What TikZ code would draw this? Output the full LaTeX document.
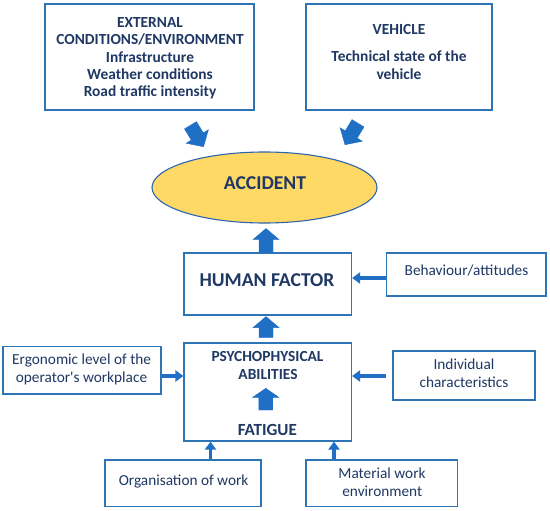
\documentclass[tikz,border=0pt]{standalone}
\usepackage{fontspec}
\setmainfont{Carlito}[Ligatures=TeXOff]
\usetikzlibrary{calc,arrows.meta,shapes.geometric}
\definecolor{navy}{HTML}{1F3864}
\definecolor{boxblue}{HTML}{2E75B6}
\definecolor{arrblue}{HTML}{1F6FC5}
\definecolor{gold}{HTML}{FFD966}
\definecolor{ellblue}{HTML}{2E64AE}
\newcommand\fatarr[3][11pt]{%
  \coordinate (fas) at #2;
  \coordinate (fae) at #3;
  \coordinate (fah) at ($(fae)!#1!(fas)$);
  \filldraw[fatarrow] ($(fas)!7pt!90:(fae)$) -- ($(fah)!7pt!90:(fae)$) -- ($(fah)!13pt!90:(fae)$) -- (fae)
    -- ($(fah)!13pt!-90:(fae)$) -- ($(fah)!7pt!-90:(fae)$) -- ($(fas)!7pt!-90:(fae)$) -- cycle;}
\begin{document}
\begin{tikzpicture}[x=1pt,y=-1pt,
  box/.style={draw=boxblue, line width=1.2pt, inner sep=0, fill=white},
  txt/.style={text=navy, inner sep=0, anchor=base, font=\fontsize{15.3}{18}\selectfont},
  btxt/.style={text=navy, inner sep=0, anchor=base, font=\bfseries\fontsize{15.4}{18}\selectfont},
  bigtxt/.style={text=navy, inner sep=0, anchor=base, font=\bfseries\fontsize{19.6}{22}\selectfont},
  fattxt/.style={text=navy, inner sep=0, anchor=base, font=\bfseries\fontsize{17}{20}\selectfont},
  thinarr/.style={draw=arrblue, line width=3.2pt, -{Triangle[length=8pt,width=11pt]}},
  fatarrow/.style={fill=arrblue, draw=arrblue, line width=0.4pt, line join=miter}]
\fill[white] (0,0) rectangle (550,511);
\useasboundingbox (0,0) rectangle (550,511);

% boxes
\node[box, minimum width=209pt, minimum height=106pt] (ext) at (149.5,57) {};
\node[box, minimum width=186pt, minimum height=106pt] (veh) at (399,57) {};
\node[ellipse, draw=ellblue, line width=1.1pt, fill=gold, inner sep=0,
      minimum width=225pt, minimum height=71pt] (acc) at (264.5,187.5) {};
\node[box, minimum width=167.5pt, minimum height=62pt] (hf) at (267.75,284) {};
\node[box, minimum width=159.5pt, minimum height=43pt] (beh) at (466.25,274.5) {};
\node[box, minimum width=167.5pt, minimum height=98pt] (psy) at (267.75,392) {};
\node[box, minimum width=158pt, minimum height=47.3pt] (erg) at (82,370.3) {};
\node[box, minimum width=142pt, minimum height=49pt] (ind) at (464,375.5) {};
\node[box, minimum width=156pt, minimum height=46.7pt] (org) at (183,483.3) {};
\node[box, minimum width=151.5pt, minimum height=46.7pt] (mat) at (381.75,483.3) {};

% texts
\node[btxt] (ext1) at (150,27.5) {EXTERNAL};
\node[btxt] (ext2) at (150,45) {CONDITIONS/ENVIRONMENT};
\node[btxt] (ext3) at (150,62.3) {Infrastructure};
\node[btxt] (ext4) at (150,79.5) {Weather conditions};
\node[btxt] (ext5) at (150,96.8) {Road traffic intensity};
\node[btxt] (veh1) at (399,35) {VEHICLE};
\node[btxt] (veh2) at (399,61.7) {Technical state of the};
\node[btxt] (veh3) at (399,80) {vehicle};
\node[bigtxt] (acct) at (265,189.3) {ACCIDENT};
\node[bigtxt] (hft) at (267,286) {HUMAN FACTOR};
\node[txt] (beht) at (466.5,275.5) {Behaviour/attitudes};
\node[btxt] (psy1) at (267.5,361) {PSYCHOPHYSICAL};
\node[btxt] (psy2) at (268,379) {ABILITIES};
\node[fattxt] (fatt) at (267.3,435) {FATIGUE};
\node[txt] (erg1) at (81.6,364.3) {Ergonomic level of the};
\node[txt] (erg2) at (81.5,382.7) {operator's workplace};
\node[txt] (ind1) at (464,369.3) {Individual};
\node[txt] (ind2) at (464,387.7) {characteristics};
\node[txt] (orgt) at (183.6,485) {Organisation of work};
\node[txt] (mat1) at (382,478.3) {Material work};
\node[txt] (mat2) at (382.3,496.7) {environment};

% thin arrows
\draw[thinarr] ([yshift=-3.5pt]beh.west) -- ([yshift=-3.5pt]beh.west -| hf.east);
\draw[thinarr] ([yshift=-5.7pt]erg.east) -- ([yshift=-5.7pt]erg.east -| psy.west);
\draw[thinarr] ([xshift=-6pt,yshift=-0.5pt]ind.west) -- ([yshift=-0.5pt]ind.west -| psy.east);
\draw[thinarr] ([xshift=27.5pt]org.north) -- ([xshift=27.5pt]org.north |- psy.south);
\draw[thinarr] ([xshift=-47.75pt]mat.north) -- ([xshift=-47.75pt]mat.north |- psy.south);

% fat arrows
\fatarr[12pt]{($(ext.south)+(41,14.7)$)}{($(acc.north)+(-61,-4.7)$)}
\fatarr[12pt]{($(veh.south)+(-41,12.7)$)}{($(acc.north)+(80.5,-6.7)$)}
\fatarr{([xshift=-1.75pt]hf.north)}{($(acc.south)+(1.5,5)$)}
\fatarr{($(psy.north)+(-1.75,-5)$)}{($(hf.south)+(-1.75,1)$)}
\fatarr[9pt]{($(psy.center)+(-2,18)$)}{($(psy.center)+(-2,-3.7)$)}
\end{tikzpicture}
\end{document}
